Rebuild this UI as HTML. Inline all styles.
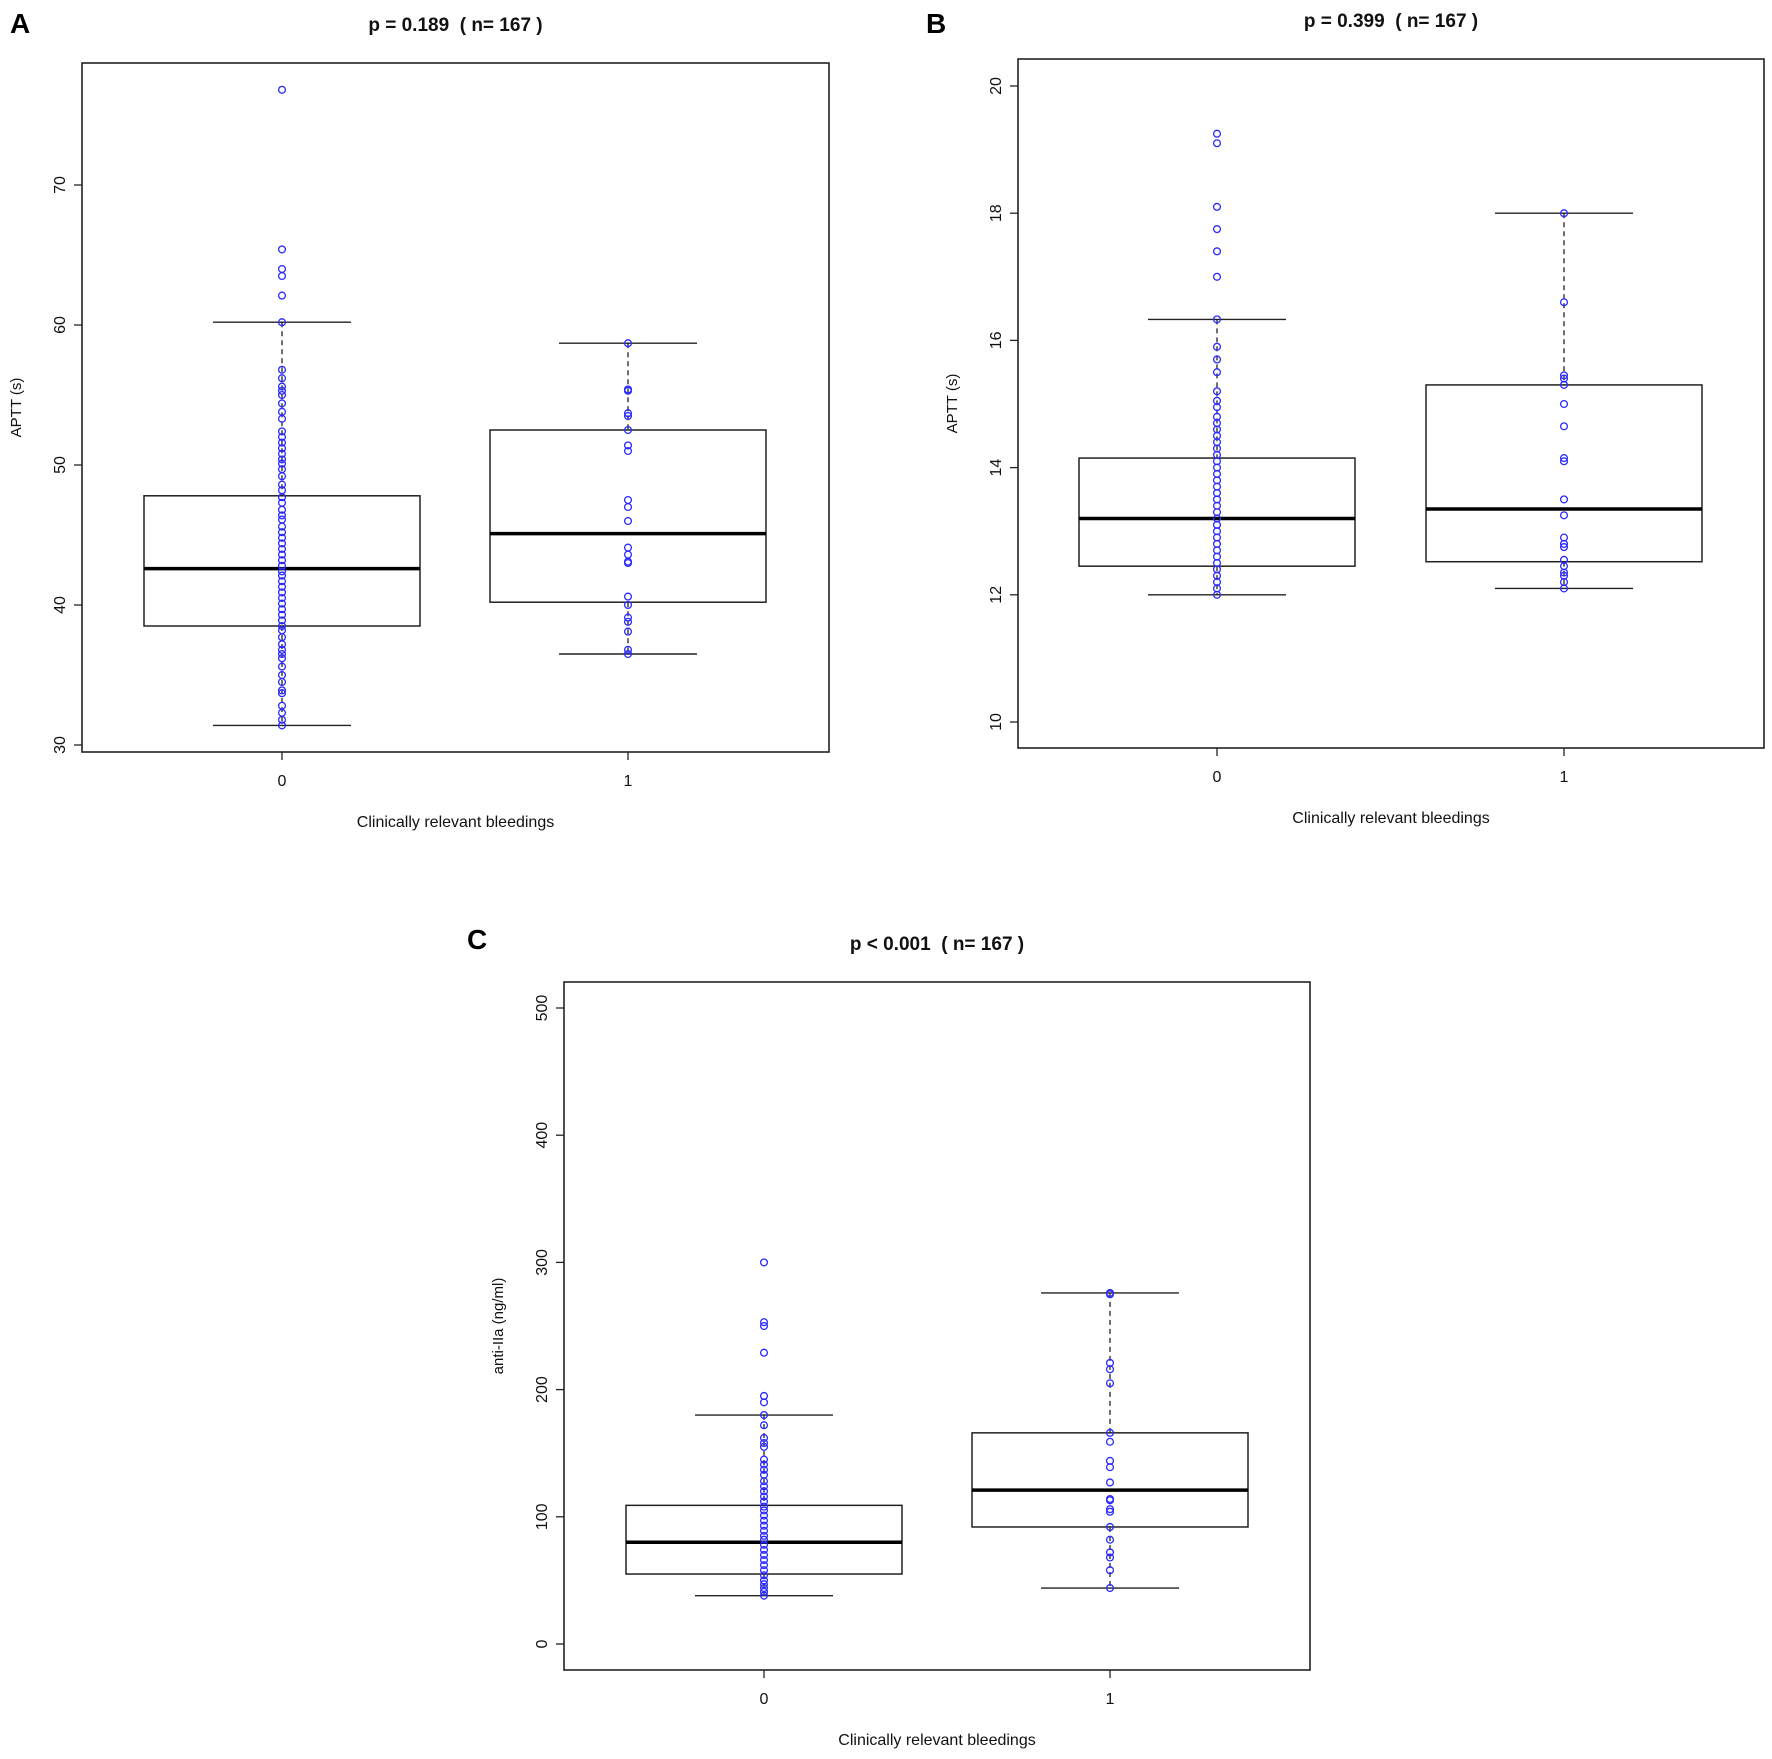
<!DOCTYPE html>
<html><head><meta charset="utf-8"><style>
html,body{margin:0;padding:0;background:#fff;}
svg{display:block;font-family:"Liberation Sans",sans-serif;}
text{white-space:pre;}
</style></head><body>
<svg id="fig" width="1772" height="1759" viewBox="0 0 1772 1759" xmlns="http://www.w3.org/2000/svg">
<rect width="1772" height="1759" fill="#fff"/>
<text x="10" y="33" font-size="28" font-weight="bold">A</text>
<text x="926" y="33" font-size="28" font-weight="bold">B</text>
<text x="467" y="949" font-size="28" font-weight="bold">C</text>
</svg>
<script>
// Panel A data
const catsA = ["0","1"];
const ticksA = [30,40,50,60,70];
const statsA0 = [31.4,38.5,42.6,47.8,60.2];
const statsA1 = [36.5,40.2,45.1,52.5,58.7];
const ptsA0 = [76.8,65.4,64.0,63.5,62.1,60.2,56.8,56.2,55.6,55.3,55.0,54.4,53.8,53.3,52.4,52.0,51.6,51.2,50.8,50.4,50.1,49.7,49.2,48.6,48.2,47.7,47.3,46.8,46.4,46.1,45.6,45.2,44.8,44.4,44.0,43.6,43.2,42.8,42.4,42.1,41.7,41.3,40.9,40.5,40.1,39.7,39.3,38.9,38.5,38.2,37.7,37.2,36.8,36.5,36.2,35.6,35.0,34.5,33.9,33.7,32.8,32.3,31.8,31.4];
const ptsA1 = [58.7,55.4,55.3,53.7,53.5,52.5,51.4,51.0,47.5,47.0,46.0,44.1,43.6,43.1,43.0,40.6,40.0,39.1,38.8,38.1,36.8,36.5];
// Panel B data
const catsB = ["0","1"];
const ticksB = [10,12,14,16,18,20];
const statsB0 = [12.0,12.45,13.2,14.15,16.33];
const statsB1 = [12.1,12.52,13.35,15.3,18.0];
const ptsB0 = [19.25,19.1,18.1,17.75,17.4,17.0,16.33,15.9,15.7,15.5,15.2,15.05,14.95,14.8,14.7,14.6,14.5,14.4,14.3,14.2,14.1,14.0,13.9,13.8,13.7,13.6,13.5,13.4,13.3,13.2,13.1,13.0,12.9,12.8,12.7,12.6,12.5,12.4,12.3,12.2,12.1,12.0];
const ptsB1 = [18.0,16.6,15.45,15.4,15.3,15.0,14.65,14.15,14.1,13.5,13.25,12.9,12.8,12.75,12.55,12.45,12.35,12.3,12.2,12.1];
// Panel C data
const catsC = ["0","1"];
const ticksC = [0,100,200,300,400,500];
const statsC0 = [38,55,80,109,180];
const statsC1 = [44,92,121,166,276];
const ptsC0 = [300,253,250,229,195,190,180,172,162,158,155,145,141,137,133,128,124,120,116,112,108,105,101,97,93,89,85,82,78,74,70,66,62,58,54,50,47,44,41,38];
const ptsC1 = [276,275,221,216,205,166,159,144,139,127,114,113,106,104,92,82,72,68,58,44];

const NS = "http://www.w3.org/2000/svg";
const svg = document.getElementById("fig");
function mk(tag, attrs, parent){
  const e = document.createElementNS(NS, tag);
  for (const k in attrs) e.setAttribute(k, attrs[k]);
  (parent||svg).appendChild(e);
  return e;
}
function panel(id, cfg){
  const g = mk("g", {});
  
  
  const y = v => cfg.y0 - (v - cfg.t0) * cfg.ppu;
  const x = i => cfg.cx[i];
  const frame = mk("rect", {x:cfg.L, y:cfg.T, width:cfg.R-cfg.L, height:cfg.B-cfg.T, fill:"none", stroke:"#222", "stroke-width":1.6}, g);
  
  
  const ya = mk("g", {}, g);
  
  
  cfg.ticks.forEach(t => {
    mk("line", {x1:cfg.L-8, x2:cfg.L, y1:y(t), y2:y(t), stroke:"#222", "stroke-width":1.3}, ya);
    const tx = mk("text", {x:cfg.L-17, y:y(t), "font-size":16, "text-anchor":"middle", transform:`rotate(-90 ${cfg.L-17} ${y(t)})`, fill:"#111"}, ya);
    tx.textContent = t;
    
    
  });
  const yl = mk("text", {x:cfg.ylx, y:(cfg.T+cfg.B)/2, "font-size":15, "text-anchor":"middle", transform:`rotate(-90 ${cfg.ylx} ${(cfg.T+cfg.B)/2})`, fill:"#111"}, g);
  yl.textContent = cfg.ylabel;
  
  
  cfg.cats.forEach((c,i) => {
    mk("line", {x1:x(i), x2:x(i), y1:cfg.B, y2:cfg.B+8, stroke:"#222", "stroke-width":1.3}, g);
    const tx = mk("text", {x:x(i), y:cfg.B+34, "font-size":16, "text-anchor":"middle", fill:"#111"}, g);
    tx.textContent = c;
    
    
  });
  const xl = mk("text", {x:(cfg.L+cfg.R)/2, y:cfg.B+75, "font-size":16, "text-anchor":"middle", fill:"#111"}, g);
  xl.textContent = "Clinically relevant bleedings";
  
  
  const tt = mk("text", {x:(cfg.L+cfg.R)/2, y:cfg.T-32, "font-size":19, "font-weight":"bold", "text-anchor":"middle", fill:"#111"}, g);
  tt.textContent = cfg.title;
  
  
  [cfg.s0, cfg.s1].forEach((s,i) => {
    const bg = mk("g", {}, g);
    
    
    const cx = x(i), hw = 138, cw = 69;
    mk("line", {x1:cx, x2:cx, y1:y(s[4]), y2:y(s[3]), stroke:"#222", "stroke-width":1.3, "stroke-dasharray":"5,4"}, bg);
    mk("line", {x1:cx, x2:cx, y1:y(s[1]), y2:y(s[0]), stroke:"#222", "stroke-width":1.3, "stroke-dasharray":"5,4"}, bg);
    mk("line", {x1:cx-cw, x2:cx+cw, y1:y(s[4]), y2:y(s[4]), stroke:"#222", "stroke-width":1.4}, bg);
    mk("line", {x1:cx-cw, x2:cx+cw, y1:y(s[0]), y2:y(s[0]), stroke:"#222", "stroke-width":1.4}, bg);
    const box = mk("rect", {x:cx-hw, y:y(s[3]), width:2*hw, height:y(s[1])-y(s[3]), fill:"none", stroke:"#222", "stroke-width":1.5}, bg);
    
    
    const med = mk("line", {x1:cx-hw, x2:cx+hw, y1:y(s[2]), y2:y(s[2]), stroke:"#000", "stroke-width":3.5}, bg);
    
    
  });
  [cfg.p0, cfg.p1].forEach((ps,i) => {
    ps.forEach(v => {
      const c = mk("circle", {cx:x(i), cy:y(v), r:3.4, fill:"none", stroke:"#2a2aff", "stroke-width":1.3}, g);
      
      
    });
  });
}
panel("a", {L:82,R:829,T:63,B:752,t0:30,y0:745,ppu:14.0,cx:[282,628],cats:catsA,ticks:ticksA,s0:statsA0,s1:statsA1,p0:ptsA0,p1:ptsA1,title:"p = 0.189  ( n= 167 )",ylabel:"APTT (s)",ylx:21});
panel("b", {L:1018,R:1764,T:59,B:748,t0:10,y0:722,ppu:63.6,cx:[1217,1564],cats:catsB,ticks:ticksB,s0:statsB0,s1:statsB1,p0:ptsB0,p1:ptsB1,title:"p = 0.399  ( n= 167 )",ylabel:"APTT (s)",ylx:957});
panel("c", {L:564,R:1310,T:982,B:1670,t0:0,y0:1644,ppu:1.272,cx:[764,1110],cats:catsC,ticks:ticksC,s0:statsC0,s1:statsC1,p0:ptsC0,p1:ptsC1,title:"p < 0.001  ( n= 167 )",ylabel:"anti-IIa (ng/ml)",ylx:503});
</script>
</body></html>
